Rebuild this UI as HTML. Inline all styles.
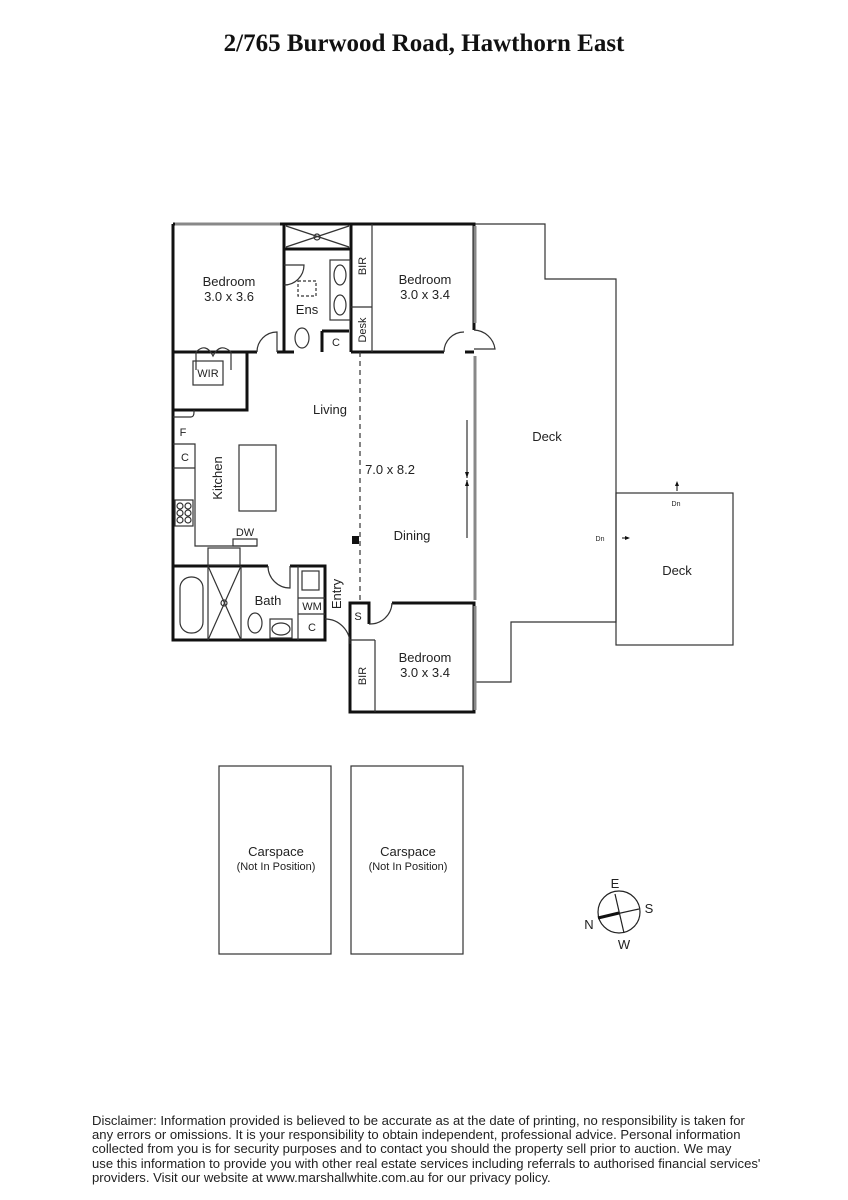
<!DOCTYPE html>
<html><head><meta charset="utf-8"><style>
body{margin:0;background:#fff;width:848px;height:1200px;position:relative;overflow:hidden}
h1{position:absolute;top:30px;left:0;width:848px;text-align:center;margin:0;font:bold 25px "Liberation Serif",serif;color:#111}
.d{position:absolute;left:92px;top:1114px;white-space:nowrap;font:13.1px/14.2px "Liberation Sans",sans-serif;color:#222}
svg{position:absolute;left:0;top:0}
text{font-family:"Liberation Sans",sans-serif;fill:#222}
</style></head><body>
<h1>2/765 Burwood Road, Hawthorn East</h1>
<svg width="848" height="1200" viewBox="0 0 848 1200">
<g fill="none" stroke="#333" stroke-width="1.2">
<polyline points="475,224 545,224 545,279 616,279 616,622 511,622 511,682 475,682"/>
<rect x="616" y="493" width="117" height="152"/>
<rect x="219" y="766" width="112" height="188"/>
<rect x="351" y="766" width="112" height="188"/>
</g>
<g fill="none" stroke="#111" stroke-width="3">
<polyline points="173,224 474,224 474,330"/>
<polyline points="173,224 173,640 325,640 325,566 290,566"/>
<line x1="284" y1="224" x2="284" y2="352"/>
<line x1="351" y1="224" x2="351" y2="352"/>
<polyline points="173,352 247,352 247,410 173,410"/>
<line x1="247" y1="352" x2="257" y2="352"/>
<line x1="277" y1="352" x2="294" y2="352"/>
<line x1="351" y1="352" x2="444" y2="352"/>
<line x1="465" y1="352" x2="474" y2="352"/>
<line x1="173" y1="566" x2="268" y2="566"/>
<polyline points="392,603 474,603 474,712 350,712 350,603 369,603 369,624"/>
<line x1="284" y1="249" x2="351" y2="249"/>
<line x1="322" y1="331" x2="322" y2="352"/><line x1="322" y1="331" x2="349" y2="331"/>
</g>
<g fill="none" stroke="#333" stroke-width="1.2">
<line x1="372" y1="224" x2="372" y2="352"/>
<line x1="351" y1="307" x2="372" y2="307"/>
<line x1="286" y1="226" x2="349" y2="247"/><line x1="349" y1="226" x2="286" y2="247"/>
<circle cx="317" cy="237" r="3"/>
<rect x="330" y="260" width="20" height="60"/>
<ellipse cx="340" cy="275" rx="6" ry="10"/><ellipse cx="340" cy="305" rx="6" ry="10"/>
<rect x="298" y="281" width="18" height="15" stroke-dasharray="3,2"/>
<ellipse cx="302" cy="338" rx="7" ry="10"/>
<path d="M284,285 A20,20 0 0 0 304,265 L284,265"/>
<path d="M257,352 A20,20 0 0 1 277,332 L277,352"/>
<path d="M444,352 A20,20 0 0 1 464,332"/>
<path d="M474,330 A22,22 0 0 1 495,349 L474,349"/>
<path d="M196,352 L196,370 M231,352 L231,370 M196,352 Q206,342 213,356 Q220,342 231,352"/>
<rect x="193" y="361" width="30" height="24"/>
<path d="M173,417 L191,417 Q194,417 194,412 L194,410"/>
<polyline points="173,444 195,444 195,546 257,546"/>
<polyline points="173,468 195,468"/>
<rect x="239" y="445" width="37" height="66"/>
<rect x="175" y="500" width="18" height="26"/>
<circle cx="180" cy="506" r="3"/><circle cx="188" cy="506" r="3"/><circle cx="180" cy="513" r="3"/><circle cx="188" cy="513" r="3"/><circle cx="180" cy="520" r="3"/><circle cx="188" cy="520" r="3"/>
<rect x="233" y="539" width="24" height="7"/>
<rect x="208" y="548" width="32" height="17"/>
<line x1="208" y1="566" x2="208" y2="640"/><line x1="241" y1="566" x2="241" y2="640"/>
<line x1="208" y1="566" x2="241" y2="640"/><line x1="241" y1="566" x2="208" y2="640"/>
<circle cx="224" cy="603" r="3"/>
<rect x="180" y="577" width="23" height="56" rx="11"/>
<ellipse cx="255" cy="623" rx="7" ry="10"/>
<rect x="270" y="619" width="22" height="19"/><ellipse cx="281" cy="629" rx="9" ry="6"/>
<line x1="298" y1="566" x2="298" y2="640"/>
<line x1="298" y1="614" x2="325" y2="614"/><line x1="298" y1="598" x2="325" y2="598"/>
<rect x="302" y="571" width="17" height="19"/>
<path d="M268,566 A22,22 0 0 0 290,588 L290,566"/>
<path d="M325,619 A25,25 0 0 1 350,644"/>
<path d="M369,624 A22,22 0 0 0 392,603"/>
<line x1="350" y1="640" x2="375" y2="640"/><line x1="375" y1="640" x2="375" y2="712"/>
<line x1="360" y1="352" x2="360" y2="603" stroke-dasharray="5,4"/>
<line x1="467" y1="420" x2="467" y2="478"/><line x1="467" y1="480" x2="467" y2="538"/>
<line x1="677" y1="483" x2="677" y2="491"/><line x1="622" y1="538" x2="628" y2="538"/>
</g>
<g stroke="#888" stroke-width="3"><line x1="175" y1="224" x2="280" y2="224"/><line x1="475" y1="226" x2="475" y2="323"/><line x1="475" y1="356" x2="475" y2="600"/><line x1="475" y1="606" x2="475" y2="710"/></g>
<rect x="352" y="536" width="7" height="8" fill="#111"/>
<path d="M467,478 l-2,-6 h4z M467,480 l-2,6 h4z M677,481 l-2,5 h4z M630,538 l-5,-2 v4z" fill="#111"/>
<g font-size="13" text-anchor="middle">
<text x="229" y="286">Bedroom</text><text x="229" y="301">3.0 x 3.6</text>
<text x="425" y="284">Bedroom</text><text x="425" y="299">3.0 x 3.4</text>
<text x="307" y="314">Ens</text>
<text x="330" y="414">Living</text><text x="390" y="474">7.0 x 8.2</text>
<text x="412" y="540">Dining</text><text x="547" y="441">Deck</text><text x="677" y="575">Deck</text>
<text x="268" y="605">Bath</text>
<text x="425" y="662">Bedroom</text><text x="425" y="677">3.0 x 3.4</text>
<text x="276" y="856">Carspace</text><text x="408" y="856">Carspace</text>
<text x="615" y="888">E</text><text x="649" y="913">S</text><text x="589" y="929">N</text><text x="624" y="949">W</text>
</g>
<g font-size="11" text-anchor="middle">
<text x="208" y="377">WIR</text><text x="245" y="536">DW</text><text x="312" y="610">WM</text>
<text x="336" y="346">C</text><text x="185" y="461">C</text><text x="312" y="631">C</text><text x="183" y="436">F</text><text x="358" y="620">S</text>
<text x="276" y="870">(Not In Position)</text><text x="408" y="870">(Not In Position)</text>
<text transform="translate(366,266) rotate(-90)">BIR</text>
<text transform="translate(366,330) rotate(-90)">Desk</text>
<text transform="translate(366,676) rotate(-90)">BIR</text>
</g>
<text font-size="13" text-anchor="middle" transform="translate(222,478) rotate(-90)">Kitchen</text>
<text font-size="13" text-anchor="middle" transform="translate(341,594) rotate(-90)">Entry</text>
<text font-size="7" x="676" y="506" text-anchor="middle">Dn</text><text font-size="7" x="600" y="541" text-anchor="middle">Dn</text>
<g fill="none" stroke="#222" stroke-width="1.2"><circle cx="619" cy="912" r="21"/><line x1="615" y1="894" x2="624" y2="933"/><line x1="598" y1="918" x2="639" y2="909"/></g>
<line x1="598" y1="918" x2="619" y2="913" stroke="#111" stroke-width="3"/>
</svg>
<div class="d">Disclaimer: Information provided is believed to be accurate as at the date of printing, no responsibility is taken for<br>any errors or omissions. It is your responsibility to obtain independent, professional advice. Personal information<br>collected from you is for security purposes and to contact you should the property sell prior to auction. We may<br>use this information to provide you with other real estate services including referrals to authorised financial services'<br>providers. Visit our website at www.marshallwhite.com.au for our privacy policy.</div>
</body></html>
